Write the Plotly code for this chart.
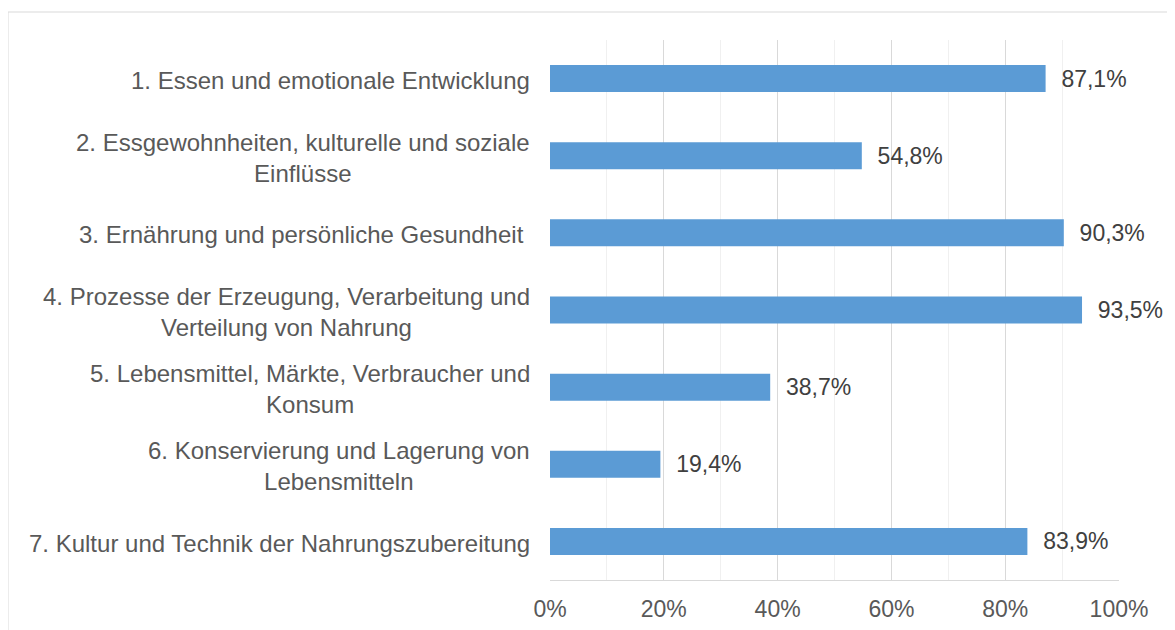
import plotly.graph_objects as go

categories = [
    "1. Essen und emotionale Entwicklung",
    "2. Essgewohnheiten, kulturelle und soziale<br>Einflüsse",
    "3. Ernährung und persönliche Gesundheit ",
    "4. Prozesse der Erzeugung, Verarbeitung und<br>Verteilung von Nahrung",
    "5. Lebensmittel, Märkte, Verbraucher und<br>Konsum",
    "6. Konservierung und Lagerung von<br>Lebensmitteln",
    "7. Kultur und Technik der Nahrungszubereitung",
]
values = [87.1, 54.8, 90.3, 93.5, 38.7, 19.4, 83.9]
tick_vals = [0, 20, 40, 60, 80, 100]
tick_text = ["0%", "20%", "40%", "60%", "80%", "100%"]

FONT = "Liberation Sans, Arial, sans-serif"
FS_LAB = 24
FS = 23

fig = go.Figure()
fig.add_trace(go.Bar(
    x=values,
    y=categories,
    orientation="h",
    marker=dict(color="#5B9BD5", line=dict(width=0)),
    texttemplate="\u00a0\u00a0%{x:.1f}%",
    textposition="outside",
    textfont=dict(family=FONT, size=FS, color="#404040"),
    cliponaxis=False,
    hoverinfo="skip",
))

for c in categories:
    fig.add_annotation(
        x=0, xref="paper", xshift=-18, y=c, yref="y", yshift=-2,
        text=c, showarrow=False, xanchor="right", yanchor="middle",
        align="center", font=dict(family=FONT, size=FS_LAB, color="#595959"),
    )

# page body has an 8px offset; compensate in margins
L, R, T, B = 542, 64, 32, 58
W, H = 1175, 630
pw, ph = W - L - R, H - T - B
fig.add_shape(
    type="rect", xref="paper", yref="paper",
    x0=(0 - L) / pw, x1=(W + 20 - L) / pw,
    y0=-(H + 20 - (H - B)) / ph, y1=((H - B) - 4) / ph,
    line=dict(color="#D9D9D9", width=1), fillcolor="rgba(0,0,0,0)", layer="below",
)

fig.update_layout(
    width=W, height=H,
    margin=dict(l=L, r=R, t=T, b=B),
    plot_bgcolor="white", paper_bgcolor="white",
    separators=",.",
    bargap=0.65,
    showlegend=False,
    xaxis=dict(
        range=[0, 100], tickvals=tick_vals, ticktext=tick_text,
        showgrid=True, gridcolor="#D9D9D9", gridwidth=1,
        minor=dict(dtick=10, showgrid=True, gridcolor="#F0F0F0", gridwidth=1),
        showline=True, linecolor="#D9D9D9", linewidth=1,
        zeroline=False, ticks="", ticklen=0, ticklabelstandoff=8,
        tickfont=dict(family=FONT, size=FS, color="#595959"),
        fixedrange=True,
    ),
    yaxis=dict(
        categoryorder="array", categoryarray=categories[::-1],
        showticklabels=False, showgrid=False, zeroline=False,
        showline=False, fixedrange=True,
    ),
)

fig.write_html("out.html")
